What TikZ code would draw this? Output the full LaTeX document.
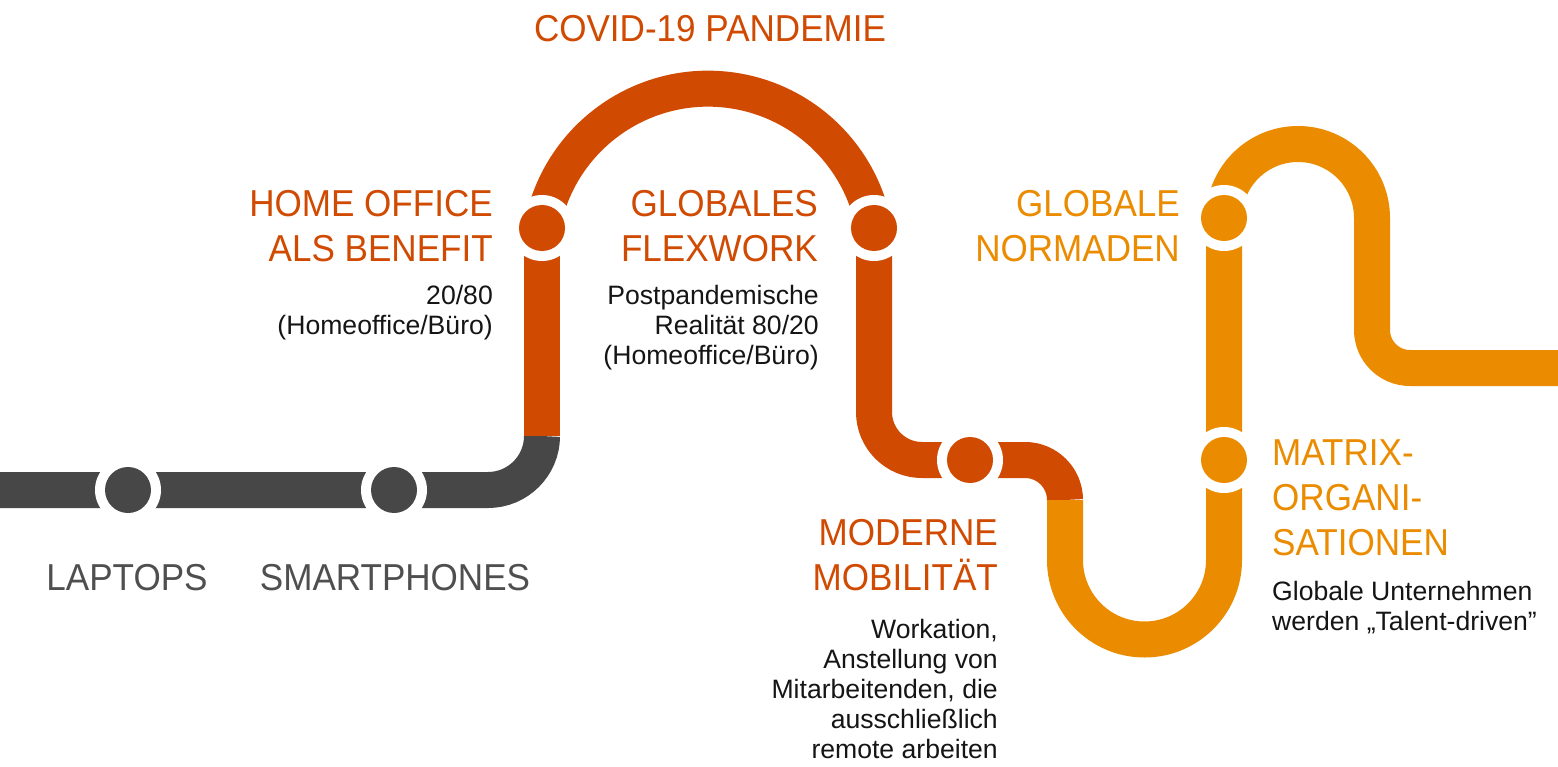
\documentclass[tikz,border=0pt]{standalone}
\usepackage{fontspec}
\setmainfont{Liberation Sans}
\newfontfamily\headfont{Liberation Sans}[FakeStretch=0.935]
\definecolor{dk}{HTML}{D04A02}
\definecolor{lt}{HTML}{EB8C00}
\definecolor{gr}{HTML}{474747}
\definecolor{txtgr}{HTML}{4F4F4F}
\definecolor{bodyc}{HTML}{151515}
\newcommand\rlines[1]{\vtop{\halign{\hfil##\cr#1\crcr}}}
\newcommand\llines[1]{\vtop{\halign{##\hfil\cr#1\crcr}}}
\begin{document}
\begin{tikzpicture}[x=1pt,y=-1pt,
  track/.style={line width=36pt},
  ring/.style={circle, fill=white, minimum size=66pt, inner sep=0pt},
  dot/.style={circle, minimum size=46pt, inner sep=0pt},
  head/.style={font=\headfont\fontsize{37.5}{45}\selectfont, inner sep=0pt},
  bodytxt/.style={font=\fontsize{26.6}{30}\selectfont, text=bodyc, inner sep=0pt}]
\clip (0,0) rectangle (1558,767);
\fill[white] (0,0) rectangle (1558,767);
% stations
\coordinate (laptops) at (128,490);
\coordinate (smart) at (394,490);
\coordinate (home) at (542,228);
\coordinate (flex) at (874,228);
\coordinate (mobil) at (970,460);
\coordinate (normad) at (1224,218);
\coordinate (matrix) at (1224,460);
\coordinate (start) at (-10,490);
\coordinate (c1) at (542,436);
\coordinate (c2) at (1065,500);
\coordinate (fin) at (1570,368);
% tracks
\draw[track, gr] (start) -- (laptops) -- (smart) -- (488,490) arc[start angle=90, end angle=0, radius=54] -- (c1);
\draw[track, dk] (c1) -- (home);
\draw[track, dk] (home) arc[start angle=190, end angle=350, radius=168.6];
\draw[track, dk] (flex) -- (874,412) arc[start angle=180, end angle=90, radius=48] -- (mobil) -- (1025,460) arc[start angle=270, end angle=360, radius=40] -- (c2);
\draw[track, lt] (c2) -- (1065,560) arc[start angle=180, end angle=0, radius=79.5] -- (matrix) -- (normad);
\draw[track, lt] (normad) arc[start angle=180, end angle=360, radius=74] -- (1372,330) arc[start angle=180, end angle=90, radius=38] -- (fin);
% station dots
\foreach \s/\c in {laptops/gr, smart/gr, home/dk, flex/dk, mobil/dk, normad/lt, matrix/lt}{
  \node[ring] (\s-ring) at (\s) {};
  \node[dot, fill=\c] (\s-dot) at (\s) {};
}
% texts
\node[head, text=txtgr, anchor=base] (lapT) at (127,590) {LAPTOPS};
\node[head, text=txtgr, anchor=base] (smT) at (395,590) {SMARTPHONES};
\node[head, text=dk, anchor=base] (covid) at (710,42) {COVID-19 PANDEMIE};
\node[head, text=dk, anchor=base east] (homeT) at (493,217) {\rlines{HOME OFFICE\cr ALS BENEFIT}};
\node[bodytxt, anchor=base east] (homeB) at (493,305) {\rlines{20/80\cr (Homeoffice/Büro)}};
\node[head, text=dk, anchor=base east] (flexT) at (818,217) {\rlines{GLOBALES\cr FLEXWORK}};
\node[bodytxt, anchor=base east] (flexB) at (819,305) {\rlines{Postpandemische\cr Realität 80/20\cr (Homeoffice/Büro)}};
\node[head, text=dk, anchor=base east] (mobT) at (998,545) {\rlines{MODERNE\cr MOBILITÄT}};
\node[bodytxt, anchor=base east] (mobB) at (998,638) {\rlines{Workation,\cr Anstellung von\cr Mitarbeitenden, die\cr ausschließlich\cr remote arbeiten}};
\node[head, text=lt, anchor=base east] (normT) at (1180,217) {\rlines{GLOBALE\cr NORMADEN}};
\node[head, text=lt, anchor=base west] (matT) at (1272,465) {\llines{MATRIX-\cr ORGANI-\cr SATIONEN}};
\node[bodytxt, anchor=base west] (matB) at (1272,600) {\llines{Globale Unternehmen\cr werden „Talent-driven”}};
\end{tikzpicture}
\end{document}
